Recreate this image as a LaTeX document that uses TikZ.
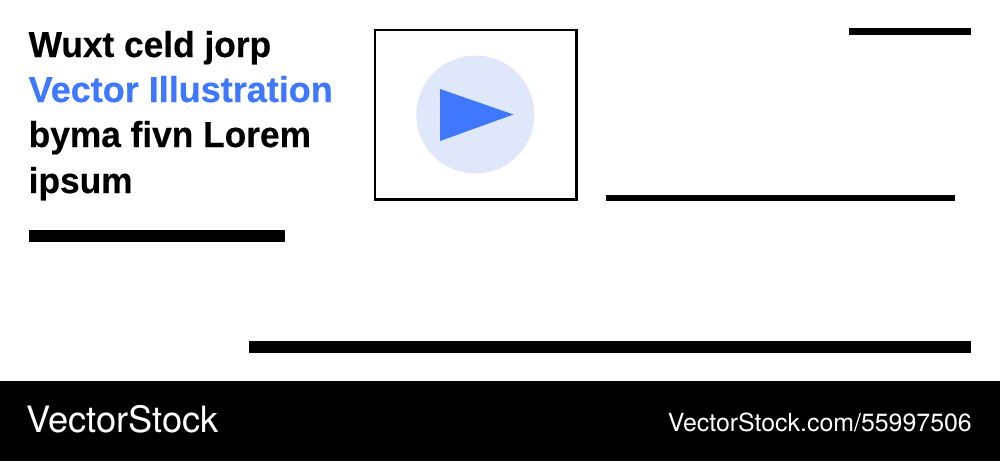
\documentclass[tikz,border=0pt]{standalone}
\usepackage{fontspec}
\setmainfont{Liberation Sans}
\newfontfamily\headfont{Liberation Sans}[FakeStretch=0.98,FakeBold=0.4]
\newfontfamily\accentfont{Liberation Sans}[FakeStretch=1.0,FakeBold=0.4]
\newfontfamily\footfont{TeX Gyre Heros}
\definecolor{accent}{HTML}{3F78FF}
\definecolor{pale}{HTML}{DEE8FA}
\tikzset{
  head/.style={anchor=base west,inner sep=0pt,font=\headfont\bfseries\fontsize{36}{40}\selectfont},
  foot/.style={inner sep=0pt,text=white},
  bar/.style={fill=black,draw=none}
}
\begin{document}
\begin{tikzpicture}[x=1pt,y=-1pt]
\useasboundingbox (0,0) rectangle (1000,461);
\fill[white] (0,0) rectangle (1000,461);
\node[head] (t1) at (28.5,57) {Wuxt celd jorp};
\node[head,text=accent,font=\accentfont\bfseries\fontsize{36}{40}\selectfont] (t2) at (28.5,102) {Vector Illustration};
\node[head] (t3) at (28.5,147) {byma fivn Lorem};
\node[head] (t4) at (28.5,193) {ipsum};
\fill[bar] (29,229.5) rectangle (285,242);
\draw[line width=2.5pt] (375,30) rectangle (576.5,199.5);
\fill[pale] (475.3,114.5) circle (59);
\fill[accent] (440,89) -- (513.5,114.5) -- (440,141) -- cycle;
\fill[bar] (849,28) rectangle (971,34.5);
\fill[bar] (606,195) rectangle (955,200.5);
\fill[bar] (248.5,340.5) rectangle (971,353);
\fill[black] (0,381) rectangle (1000,461);
\node[foot,anchor=base west,font=\footfont\fontsize{36.3}{40}\selectfont] (logo) at (26,432) {VectorStock};
\node[foot,anchor=base east,font=\footfont\fontsize{24.9}{28}\selectfont] (url) at (972,431) {VectorStock.com/55997506};
\end{tikzpicture}
\end{document}
